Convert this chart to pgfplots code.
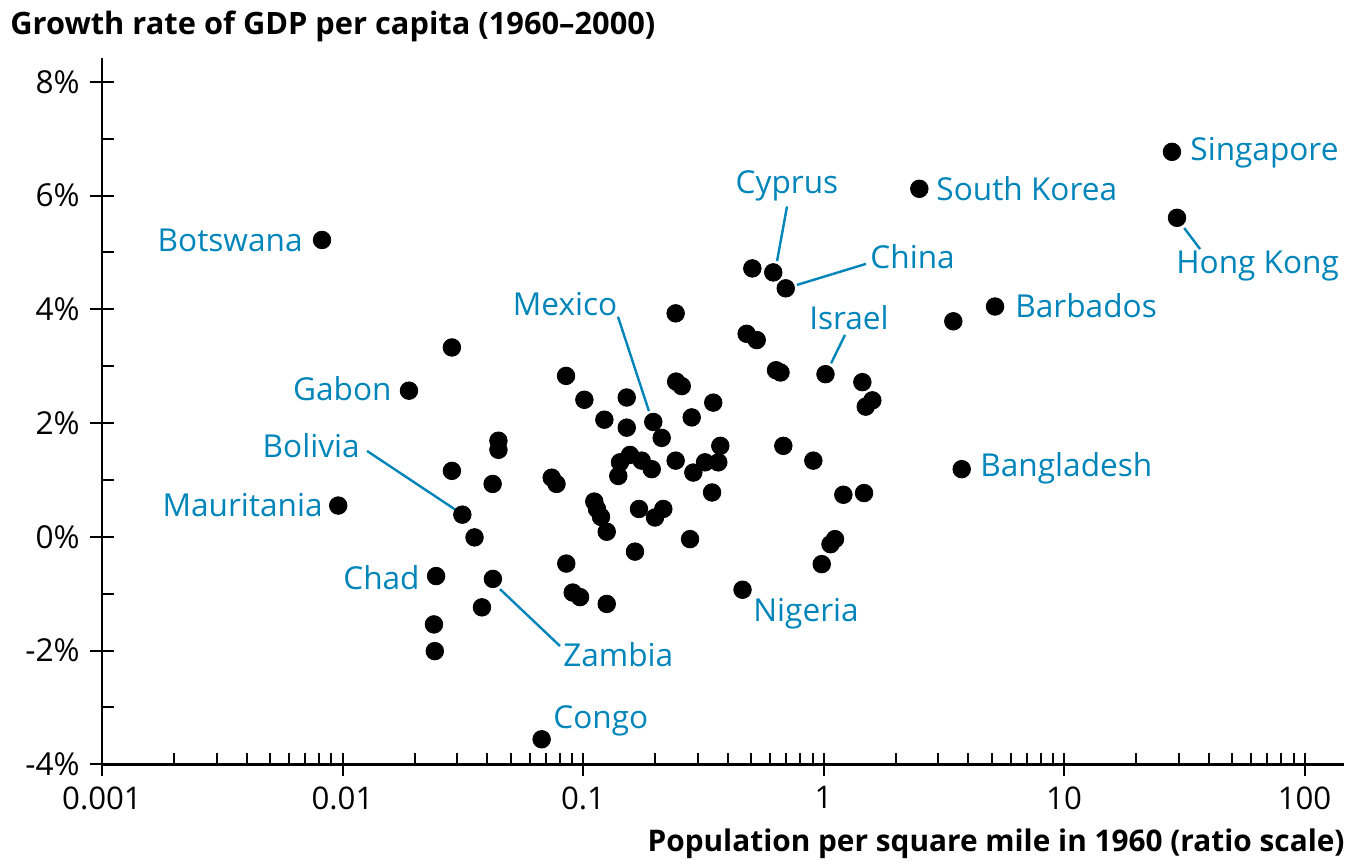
\documentclass[border=0pt]{standalone}
\usepackage{pgfplots}
\pgfplotsset{compat=1.18}
\usepackage{pgfplotstable}
\usepackage{fontspec}
\setmainfont{Open Sans}
\definecolor{lab}{RGB}{0,133,187}
\pgfplotstableread{
x y
0.00822 5.22
0.0189 2.57
0.00960 0.55
0.0285 3.33
0.0285 1.16
0.0315 0.39
0.0354 -0.01
0.0245 -0.69
0.0240 -1.54
0.0242 -2.01
0.0380 -1.24
0.0422 -0.74
0.0421 0.93
0.0445 1.69
0.0445 1.53
0.0741 1.04
0.0776 0.93
0.0850 2.83
0.1013 2.41
0.0852 -0.47
0.0673 -3.56
0.0906 -0.98
0.0972 -1.06
0.1255 -1.18
0.1114 0.62
0.1143 0.49
0.1188 0.35
0.1255 0.09
0.1227 2.06
0.152 2.45
0.152 1.92
0.196 2.02
0.2124 1.74
0.2428 3.93
0.2439 2.73
0.2573 2.65
0.2831 2.10
0.348 2.36
0.3723 1.60
0.1425 1.31
0.1568 1.44
0.1754 1.34
0.1931 1.19
0.1402 1.07
0.2428 1.34
0.2875 1.13
0.3216 1.31
0.3652 1.31
0.344 0.78
0.1709 0.49
0.2157 0.49
0.1992 0.34
0.2786 -0.04
0.1645 -0.26
0.479 3.57
0.5275 3.46
0.5058 4.72
0.6181 4.65
0.6965 4.37
0.6345 2.93
0.6625 2.89
0.6805 1.60
1.019 2.86
1.45 2.72
1.596 2.40
1.498 2.29
0.907 1.34
1.209 0.74
1.474 0.77
1.116 -0.04
1.069 -0.13
0.983 -0.48
0.4605 -0.93
2.502 6.12
3.465 3.79
5.166 4.05
3.754 1.19
28.1 6.77
29.5 5.61
}\datatable
\begin{document}
\fontsize{15pt}{18pt}\selectfont
\begin{tikzpicture}
\begin{axis}[
  scale only axis, width=621pt, height=353.15pt,
  xmode=log, xmin=0.001, xmax=145.9, ymin=-4, ymax=8.42,
  axis lines=left, axis line style={-, line width=1.3pt},
  xtick={0.001,0.01,0.1,1,10,100},
  xticklabels={0.001,0.01,0.1,1,10,100},
  minor xtick={0.002,0.003,0.004,0.005,0.006,0.007,0.008,0.009,
    0.02,0.03,0.04,0.05,0.06,0.07,0.08,0.09,
    0.2,0.3,0.4,0.5,0.6,0.7,0.8,0.9,
    2,3,4,5,6,7,8,9,20,30,40,50,60,70,80,90},
  ytick={-4,-2,0,2,4,6,8},
  yticklabels={-4\%,-2\%,0\%,2\%,4\%,6\%,8\%},
  minor ytick={-3,-1,1,3,5,7},
  tick align=inside, major tick length=5.8pt, minor tick length=5.8pt,
  tick style={black, line width=1pt},
  extra x ticks={0.001,0.01,0.1,1,10,100}, extra x tick labels={},
  extra x tick style={tick align=outside, major tick length=5.8pt},
  extra y ticks={-4,-2,0,2,4,6,8}, extra y tick labels={},
  extra y tick style={tick align=outside, major tick length=5.8pt},
  xticklabel style={font=\fontsize{15.6pt}{18pt}\selectfont, yshift=-6pt},
  yticklabel style={font=\fontsize{15.8pt}{18pt}\selectfont, xshift=-6pt},
  clip=false,
]
\addplot[only marks, mark=*, mark size=4.4pt, black] table[x=x,y=y] {\datatable};
\begin{scope}[every node/.style={text=lab, inner sep=0pt, font=\fontsize{15.8pt}{18pt}\selectfont}]
\node[anchor=east] at (axis cs:0.006852,5.22) {Botswana};
\node[anchor=east] at (axis cs:0.01606,2.60) {Gabon};
\node[anchor=east] at (axis cs:0.00830,0.56) {Mauritania};
\node[anchor=east] at (axis cs:0.0210,-0.71) {Chad};
\node[anchor=east] at (axis cs:0.01183,1.61) {Bolivia};
\node[anchor=west] at (axis cs:0.0825,-2.07) {Zambia};
\node[anchor=west] at (axis cs:0.0750,-3.23) {Congo};
\node at (axis cs:0.0842,4.09) {Mexico};
\node at (axis cs:0.705,6.17) {Cyprus};
\node[anchor=west] at (axis cs:1.561,4.92) {China};
\node at (axis cs:1.276,3.86) {Israel};
\node[anchor=west] at (axis cs:0.509,-1.36) {Nigeria};
\node[anchor=west] at (axis cs:2.937,6.12) {South Korea};
\node[anchor=west] at (axis cs:33.4,6.75) {Singapore};
\node[anchor=west] at (axis cs:29.2,4.76) {Hong Kong};
\node[anchor=west] at (axis cs:6.256,4.06) {Barbados};
\node[anchor=west] at (axis cs:4.475,1.21) {Bangladesh};
\end{scope}
\begin{scope}[lab, line width=1.2pt]
\draw (axis cs:0.01265,1.51) -- (axis cs:0.02965,0.47);
\draw (axis cs:0.0802,-1.92) -- (axis cs:0.04518,-0.92);
\draw (axis cs:0.1398,3.87) -- (axis cs:0.188,2.21);
\draw (axis cs:0.705,5.81) -- (axis cs:0.641,4.85);
\draw (axis cs:1.502,4.80) -- (axis cs:0.776,4.43);
\draw (axis cs:1.228,3.55) -- (axis cs:1.075,3.05);
\draw (axis cs:31.6,5.43) -- (axis cs:36.8,5.06);
\end{scope}
\end{axis}
\node[anchor=base west, inner sep=0pt, font=\bfseries\fontsize{15.4pt}{18pt}\selectfont] at (-46pt,364.65pt) {Growth rate of GDP per capita (1960–2000)};
\node[anchor=base east, inner sep=0pt, font=\bfseries\fontsize{14.9pt}{18pt}\selectfont] at (621.5pt,-43.85pt) {Population per square mile in 1960 (ratio scale)};
\pgfresetboundingbox
\path[use as bounding box] (-51pt,-51.35pt) rectangle (626.5pt,382.15pt);
\end{tikzpicture}
\end{document}
